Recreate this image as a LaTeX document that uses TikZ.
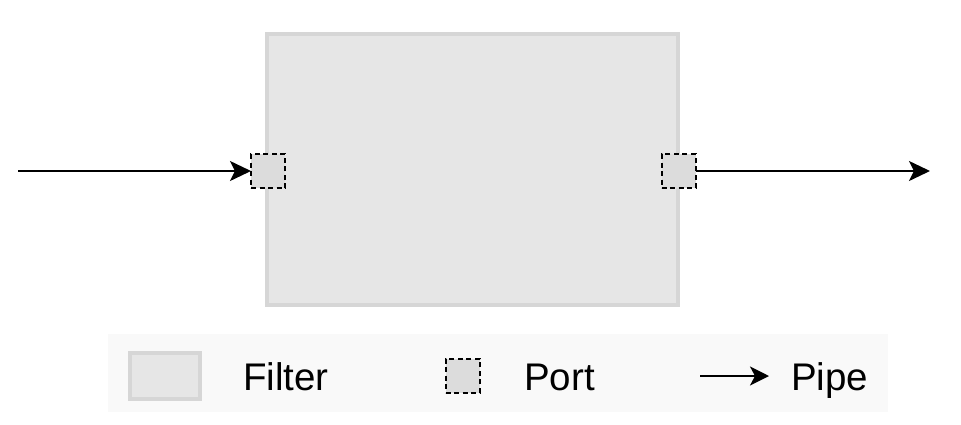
\documentclass[tikz,border=0pt]{standalone}
\usepackage{fontspec}
\setmainfont{Liberation Sans}
\usetikzlibrary{arrows.meta}
\definecolor{filterfill}{HTML}{E6E6E6}
\definecolor{filterdraw}{HTML}{D6D6D6}
\definecolor{portfill}{HTML}{DCDCDC}
\definecolor{legendbg}{HTML}{F9F9F9}
\begin{document}
\begin{tikzpicture}[x=1pt,y=-1pt,
  filterbox/.style={rectangle,inner sep=0pt,outer sep=0pt,fill=filterfill,draw=filterdraw,line width=4pt},
  portbox/.style={rectangle,inner sep=0pt,outer sep=0pt,fill=portfill,draw=black,line width=2pt,dash pattern=on 5pt off 3.5pt,minimum width=34pt,minimum height=34pt},
  pipe/.style={draw=black,line width=2pt,-{Stealth[length=21pt,width=20pt,inset=5pt]}},
  legendpipe/.style={draw=black,line width=2pt,-{Stealth[length=19pt,width=19pt,inset=5pt]}},
  legendtext/.style={anchor=base west,inner sep=0pt,font=\fontsize{38.5}{46}\selectfont}]
\useasboundingbox (0,0) rectangle (961,424);
% main filter
\node[filterbox,minimum width=411pt,minimum height=271pt] (filter) at (472.5,169.5) {};
\node[portbox] (inport) at (268,171) {};
\node[portbox] (outport) at (678.5,171) {};
\coordinate (src) at (18,171);
\coordinate (dst) at (930,171);
\draw[pipe] (src) -- (inport.west);
\draw[pipe] (outport.east) -- (dst);
% legend
\node[rectangle,fill=legendbg,inner sep=0pt,minimum width=780pt,minimum height=78pt] (legend) at (498,373) {};
\node[filterbox,minimum width=70pt,minimum height=46pt] (lfilter) at (165,376) {};
\node[legendtext] (tfilter) at (243,390) {Filter};
\node[portbox] (lport) at (462.5,375.5) {};
\node[legendtext] (tport) at (524,390) {Port};
\coordinate (lpa) at (700,376);
\coordinate (lpb) at (769,376);
\draw[legendpipe] (lpa) -- (lpb);
\node[legendtext] (tpipe) at (791,390) {Pipe};
\end{tikzpicture}
\end{document}
